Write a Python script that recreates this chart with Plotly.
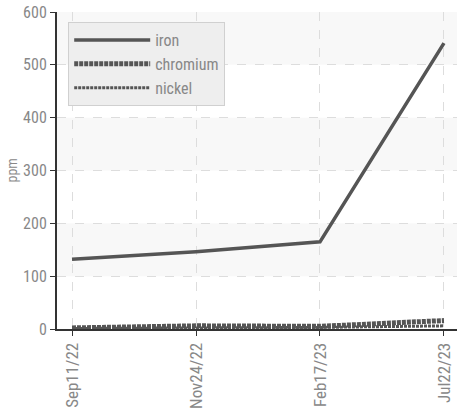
import plotly.graph_objects as go

dates = ["Sep11/22", "Nov24/22", "Feb17/23", "Jul22/23"]
iron = [132, 146, 165, 541]
chromium = [2, 6, 5, 16]
nickel = [1, 2, 3, 6]
yticks = [0, 100, 200, 300, 400, 500, 600]
bands = [(100, 200), (300, 400), (500, 600)]

font = "Liberation Sans Narrow, Roboto Condensed, Roboto, sans-serif"
col = "#555555"

fig = go.Figure()
fig.add_trace(go.Scatter(x=dates, y=iron, name="iron", mode="lines",
                         line=dict(color=col, width=3.5)))
fig.add_trace(go.Scatter(x=dates, y=chromium, name="chromium", mode="lines",
                         line=dict(color=col, width=5, dash="4px,1px")))
fig.add_trace(go.Scatter(x=dates, y=nickel, name="nickel", mode="lines",
                         line=dict(color=col, width=3, dash="3px,1px")))

for y0, y1 in bands:
    fig.add_shape(type="rect", xref="paper", yref="y", x0=0, x1=1, y0=y0, y1=y1,
                  fillcolor="#f8f8f8", line_width=0, layer="below")

fig.add_annotation(text="ppm", xref="paper", yref="paper", x=0, y=0.5,
                   xanchor="center", yanchor="middle", xshift=-46,
                   textangle=-90, showarrow=False,
                   font=dict(size=14, color="#888888"))

fig.update_layout(
    width=457, height=411,
    margin=dict(l=57, r=0, t=12, b=82),
    paper_bgcolor="white", plot_bgcolor="white",
    font=dict(family=font, size=17, color="#888888"),
    showlegend=True,
    legend=dict(x=0.028, y=0.968, xanchor="left", yanchor="top",
                bgcolor="#eeeeee", bordercolor="#d0d0d0", borderwidth=1,
                itemwidth=76, font=dict(size=16, color="#888888"),
                tracegroupgap=0),
    xaxis=dict(type="category", range=[-0.121, 3.105], showgrid=True,
               gridcolor="#dddddd", griddash="dash", tickangle=-90,
               ticks="outside", ticklen=5, tickcolor="#333333",
               showline=True, linecolor="#333333", linewidth=2,
               zeroline=False, automargin=False,
               tickfont=dict(size=17, color="#888888")),
    yaxis=dict(range=[0, 600], tickvals=yticks, showgrid=True,
               gridcolor="#dddddd", griddash="dash",
               ticks="outside", ticklen=5, tickcolor="#333333",
               showline=True, linecolor="#333333", linewidth=2,
               zeroline=False, automargin=False,
               tickfont=dict(size=16, color="#888888")),
)

fig.write_html("out.html", config={"displayModeBar": False},
               post_script="document.body.style.margin='0px';")
